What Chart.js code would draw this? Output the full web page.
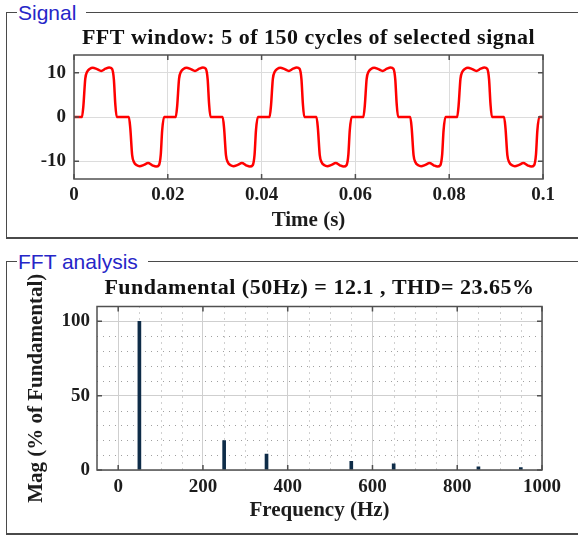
<!DOCTYPE html>
<html>
<head>
<meta charset="utf-8">
<title>FFT analysis</title>
<script src="https://cdn.jsdelivr.net/npm/chart.js@4.4.1/dist/chart.umd.min.js"></script>
<style>
  body { margin: 0; background: #fff; width: 578px; height: 538px; overflow: hidden; position: relative; }
  .box { position: absolute; left: 6px; width: 600px; border: 1px solid #4a4a4a; border-bottom: 2px solid #4a4a4a; }
  .box span {
    position: absolute; top: -12px; left: 10px; z-index: 2;
    background: #fff; color: #2626c8; padding: 0 10px 0 1px;
    font: 21px "Liberation Sans", Arial, sans-serif; line-height: 24px;
  }
  canvas { position: absolute; left: 0; z-index: 1; }
</style>
</head>
<body>
<div class="box" style="top:12px; height:224px;"><span>Signal</span></div>
<div class="box" style="top:261px; height:271px;"><span>FFT analysis</span></div>
<canvas id="signalChart" width="578" height="237" style="top:0"></canvas>
<canvas id="fftChart" width="578" height="296" style="top:240px"></canvas>

<script>
// signal over the FFT window (5 cycles of 50 Hz)
const signalTime = [
  0.0000, 0.0017, 0.0020, 0.0024, 0.0028, 0.0034, 0.0040, 0.0049, 0.0058, 0.0067, 0.0075, 0.0081, 0.0085, 0.0088, 0.0091,
  0.0117, 0.0120, 0.0124, 0.0128, 0.0134, 0.0140, 0.0149, 0.0158, 0.0167, 0.0175, 0.0181, 0.0185, 0.0188, 0.0192,
  0.0200, 0.0217, 0.0220, 0.0224, 0.0228, 0.0234, 0.0240, 0.0249, 0.0258, 0.0267, 0.0275, 0.0281, 0.0285, 0.0288, 0.0291,
  0.0317, 0.0320, 0.0324, 0.0328, 0.0334, 0.0340, 0.0349, 0.0358, 0.0367, 0.0375, 0.0381, 0.0385, 0.0388, 0.0392,
  0.0400, 0.0417, 0.0420, 0.0424, 0.0428, 0.0434, 0.0440, 0.0449, 0.0458, 0.0467, 0.0475, 0.0481, 0.0485, 0.0488, 0.0491,
  0.0517, 0.0520, 0.0524, 0.0528, 0.0534, 0.0540, 0.0549, 0.0558, 0.0567, 0.0575, 0.0581, 0.0585, 0.0588, 0.0592,
  0.0600, 0.0617, 0.0620, 0.0624, 0.0628, 0.0634, 0.0640, 0.0649, 0.0658, 0.0667, 0.0675, 0.0681, 0.0685, 0.0688, 0.0691,
  0.0717, 0.0720, 0.0724, 0.0728, 0.0734, 0.0740, 0.0749, 0.0758, 0.0767, 0.0775, 0.0781, 0.0785, 0.0788, 0.0792,
  0.0800, 0.0817, 0.0820, 0.0824, 0.0828, 0.0834, 0.0840, 0.0849, 0.0858, 0.0867, 0.0875, 0.0881, 0.0885, 0.0888, 0.0891,
  0.0917, 0.0920, 0.0924, 0.0928, 0.0934, 0.0940, 0.0949, 0.0958, 0.0967, 0.0975, 0.0981, 0.0985, 0.0988, 0.0992,
  0.1000
];
const signalValue = [
  0, 0, 2.5, 8.6, 10.2, 10.9, 11.1, 10.8, 10.4, 10.9, 11.2, 10.9, 8.5, 3, 0,
  0, -2.5, -8.6, -10.2, -10.9, -11.1, -10.8, -10.4, -10.9, -11.2, -10.9, -8.5, -3, 0,
  0, 0, 2.5, 8.6, 10.2, 10.9, 11.1, 10.8, 10.4, 10.9, 11.2, 10.9, 8.5, 3, 0,
  0, -2.5, -8.6, -10.2, -10.9, -11.1, -10.8, -10.4, -10.9, -11.2, -10.9, -8.5, -3, 0,
  0, 0, 2.5, 8.6, 10.2, 10.9, 11.1, 10.8, 10.4, 10.9, 11.2, 10.9, 8.5, 3, 0,
  0, -2.5, -8.6, -10.2, -10.9, -11.1, -10.8, -10.4, -10.9, -11.2, -10.9, -8.5, -3, 0,
  0, 0, 2.5, 8.6, 10.2, 10.9, 11.1, 10.8, 10.4, 10.9, 11.2, 10.9, 8.5, 3, 0,
  0, -2.5, -8.6, -10.2, -10.9, -11.1, -10.8, -10.4, -10.9, -11.2, -10.9, -8.5, -3, 0,
  0, 0, 2.5, 8.6, 10.2, 10.9, 11.1, 10.8, 10.4, 10.9, 11.2, 10.9, 8.5, 3, 0,
  0, -2.5, -8.6, -10.2, -10.9, -11.1, -10.8, -10.4, -10.9, -11.2, -10.9, -8.5, -3, 0,
  0
];
const timeTicks = [0, 0.02, 0.04, 0.06, 0.08, 0.1];
const timeTickLabels = ['0', '0.02', '0.04', '0.06', '0.08', '0.1'];
const signalTicks = [-10, 0, 10];

// harmonic spectrum, % of fundamental
const harmonicFreq = [50, 250, 350, 550, 650, 850, 950];
const harmonicMag = [100, 19.8, 10.7, 5.9, 4.1, 2.2, 1.6];
const freqTicks = [0, 200, 400, 600, 800, 1000];
const freqTickLabels = ['0', '200', '400', '600', '800', '1000'];
const magTicks = [0, 50, 100];

Chart.defaults.font.family = "'Liberation Serif', 'Times New Roman', serif";
Chart.defaults.color = '#1c1c1c';

// box around the plot area, inward tick marks, optional dotted minor grid,
// and the plot title centred over the plot area (not the whole canvas)
const framePlugin = {
  id: 'frame',
  beforeDatasetsDraw(chart, args, opts) {
    if (!opts.minorX) return;
    const {ctx, chartArea: a, scales: {x, y}} = chart;
    const majX = x.ticks.map(t => t.value);
    const majY = y.ticks.map(t => t.value);
    ctx.save();
    ctx.strokeStyle = '#a0a0a0';
    ctx.lineWidth = 1;
    ctx.setLineDash([1, 5]);
    ctx.beginPath();
    for (let v = Math.ceil(x.min / opts.minorX) * opts.minorX; v < x.max; v += opts.minorX) {
      if (v <= x.min || majX.includes(v)) continue;
      const px = Math.round(x.getPixelForValue(v)) + 0.5;
      ctx.moveTo(px, a.top);
      ctx.lineTo(px, a.bottom);
    }
    for (let v = Math.ceil(y.min / opts.minorY) * opts.minorY; v < y.max; v += opts.minorY) {
      if (v <= y.min || majY.includes(v)) continue;
      const py = Math.round(y.getPixelForValue(v)) + 0.5;
      ctx.moveTo(a.left, py);
      ctx.lineTo(a.right, py);
    }
    ctx.stroke();
    ctx.restore();
  },
  afterDraw(chart, args, opts) {
    const {ctx, chartArea: a, scales: {x, y}} = chart;
    ctx.save();
    ctx.strokeStyle = '#505050';
    ctx.lineWidth = 1.5;
    ctx.beginPath();
    x.ticks.forEach(t => {
      const px = x.getPixelForValue(t.value);
      ctx.moveTo(px, a.top); ctx.lineTo(px, a.top + 5);
      ctx.moveTo(px, a.bottom); ctx.lineTo(px, a.bottom - 5);
    });
    y.ticks.forEach(t => {
      const py = y.getPixelForValue(t.value);
      ctx.moveTo(a.left, py); ctx.lineTo(a.left + 5, py);
      ctx.moveTo(a.right, py); ctx.lineTo(a.right - 5, py);
    });
    ctx.stroke();
    ctx.strokeRect(a.left, a.top, a.right - a.left, a.bottom - a.top);

    if (opts.title) {
      ctx.font = "bold 22px 'Liberation Serif', 'Times New Roman', serif";
      ctx.letterSpacing = '0.5px';
      ctx.fillStyle = '#111';
      ctx.textAlign = 'center';
      ctx.textBaseline = 'middle';
      ctx.fillText(opts.title, (a.left + a.right) / 2, opts.titleY);
    }
    ctx.restore();
  }
};

const tickFont = {size: 19, weight: 'bold'};
const axisTitleFont = {size: 21, weight: 'bold'};

new Chart(document.getElementById('signalChart'), {
  type: 'line',
  data: {
    datasets: [{
      data: signalTime.map((t, i) => ({x: t, y: signalValue[i]})),
      borderColor: '#ff0000',
      borderWidth: 2.5,
      pointRadius: 0,
      cubicInterpolationMode: 'monotone',
      fill: false
    }]
  },
  options: {
    responsive: false,
    animation: false,
    devicePixelRatio: 1,
    layout: {padding: {top: 55, right: 35, bottom: 4, left: 0}},
    plugins: {
      legend: {display: false},
      tooltip: {enabled: false},
      frame: {title: 'FFT window: 5 of 150 cycles of selected signal', titleY: 38.5}
    },
    scales: {
      x: {
        type: 'linear',
        min: 0,
        max: 0.1,
        afterBuildTicks: s => { s.ticks = timeTicks.map(v => ({value: v})); },
        afterFit: s => { s.height = 54; },
        ticks: {callback: (v, i) => timeTickLabels[i], padding: 5, font: tickFont, maxRotation: 0, autoSkip: false},
        grid: {color: '#dcdcdc', drawTicks: false},
        border: {display: false},
        title: {display: true, text: 'Time (s)', font: axisTitleFont, padding: 0}
      },
      y: {
        min: -14,
        max: 14,
        afterBuildTicks: s => { s.ticks = signalTicks.map(v => ({value: v})); },
        afterFit: s => { s.width = 74; },
        ticks: {padding: 8, font: tickFont},
        grid: {color: '#dcdcdc', drawTicks: false},
        border: {display: false}
      }
    }
  },
  plugins: [framePlugin]
});

new Chart(document.getElementById('fftChart'), {
  type: 'bar',
  data: {
    datasets: [{
      data: harmonicFreq.map((f, i) => ({x: f, y: harmonicMag[i]})),
      backgroundColor: '#0e2c48',
      barThickness: 3
    }]
  },
  options: {
    responsive: false,
    animation: false,
    devicePixelRatio: 1,
    layout: {padding: {top: 66.5, right: 36, bottom: 13, left: 24}},
    plugins: {
      legend: {display: false},
      tooltip: {enabled: false},
      frame: {minorX: 50, minorY: 10, title: 'Fundamental (50Hz) = 12.1 , THD= 23.65%', titleY: 48}
    },
    scales: {
      x: {
        type: 'linear',
        offset: false,
        min: -50,
        max: 1000,
        afterBuildTicks: s => { s.ticks = freqTicks.map(v => ({value: v})); },
        afterFit: s => { s.height = 53; },
        ticks: {callback: (v, i) => freqTickLabels[i], padding: 6, font: tickFont, maxRotation: 0, autoSkip: false},
        grid: {color: '#cfcfcf', drawTicks: false, offset: false},
        border: {display: false},
        title: {display: true, text: 'Frequency (Hz)', font: axisTitleFont, padding: 0}
      },
      y: {
        min: 0,
        max: 110,
        afterBuildTicks: s => { s.ticks = magTicks.map(v => ({value: v})); },
        afterFit: s => { s.width = 73; },
        ticks: {padding: 7, font: tickFont},
        grid: {color: '#cfcfcf', drawTicks: false},
        border: {display: false},
        title: {display: true, text: 'Mag (% of Fundamental)', font: axisTitleFont, padding: 0}
      }
    }
  },
  plugins: [framePlugin]
});
</script>
</body>
</html>
